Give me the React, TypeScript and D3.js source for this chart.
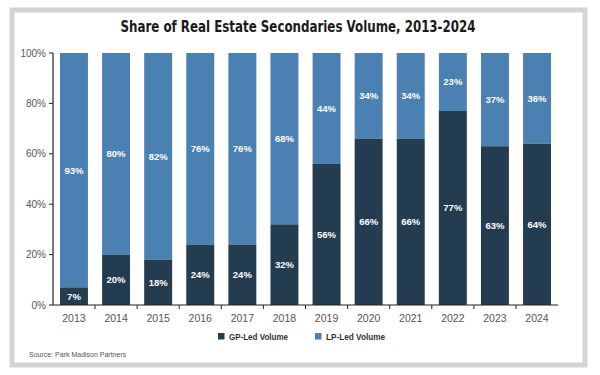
import React from "react";
import * as d3 from "d3";

const years = ["2013","2014","2015","2016","2017","2018","2019","2020","2021","2022","2023","2024"];
const gpLed = [7, 20, 18, 24, 24, 32, 56, 66, 66, 77, 63, 64];
const lpLed = [93, 80, 82, 76, 76, 68, 44, 34, 34, 23, 37, 36];
const yTicks = [0, 20, 40, 60, 80, 100];
const seriesNames = ["GP-Led Volume", "LP-Led Volume"];
const colors = ["#243c4f", "#4b80b2"];

export default function App() {
  const W = 600, H = 375;
  const left = 53, right = 558, top = 53, bottom = 305;
  const x = d3.scaleBand<string>().domain(years).range([left, right]).paddingInner(0.336).paddingOuter(0.166);
  const y = d3.scaleLinear().domain([0, 100]).range([bottom, top]);
  const step = x.step();
  const condensed = "'DejaVu Sans Condensed', 'Liberation Sans Narrow', Arial, sans-serif";
  const sans = "'Liberation Sans', Arial, sans-serif";
  return (
    <svg width={W} height={H} style={{ position: "absolute", left: 0, top: 0 }}>
      <rect x={0} y={0} width={W} height={H} fill="#fff" />
      <rect x={12} y={10} width={573} height={355} fill="#fff" stroke="#d4d4d4" strokeWidth={5} />
      <text x={298} y={32} textAnchor="middle" fontFamily={condensed} fontWeight="bold" fontSize={16} fill="#1a1a1a" textLength={355} lengthAdjust="spacingAndGlyphs">
        Share of Real Estate Secondaries Volume, 2013-2024
      </text>
      {years.map((yr, i) => {
        const bx = x(yr)!;
        const bw = x.bandwidth();
        const g = gpLed[i];
        const l = lpLed[i];
        return (
          <g key={yr}>
            <rect x={bx} y={y(g + l)} width={bw} height={y(g) - y(g + l)} fill={colors[1]} />
            <rect x={bx} y={y(g)} width={bw} height={y(0) - y(g)} fill={colors[0]} />
            <text x={bx + bw / 2} y={(y(0) + y(g)) / 2} dy="0.35em" textAnchor="middle" fontFamily={sans} fontWeight="bold" fontSize={9.5} fill="#fff">{g}%</text>
            <text x={bx + bw / 2} y={(y(g) + y(g + l)) / 2} dy="0.35em" textAnchor="middle" fontFamily={sans} fontWeight="bold" fontSize={9.5} fill="#fff">{l}%</text>
          </g>
        );
      })}
      <line x1={left} x2={left} y1={top} y2={bottom} stroke="#222" strokeWidth={1.2} />
      {yTicks.map(t => (
        <g key={t}>
          <line x1={left - 4} x2={left} y1={y(t)} y2={y(t)} stroke="#222" strokeWidth={1} />
          <text x={left - 7} y={y(t)} dy="0.35em" textAnchor="end" fontFamily={sans} fontSize={10} fill="#555">{t}%</text>
        </g>
      ))}
      <line x1={left} x2={right} y1={bottom} y2={bottom} stroke="#222" strokeWidth={1.2} />
      {years.slice(1).map(yr => (
        <line key={yr} x1={x(yr)! - (step - x.bandwidth()) / 2} x2={x(yr)! - (step - x.bandwidth()) / 2} y1={bottom} y2={bottom + 4} stroke="#222" strokeWidth={1} />
      ))}
      {years.map(yr => (
        <text key={yr} x={x(yr)! + x.bandwidth() / 2} y={318} dy="0.35em" textAnchor="middle" fontFamily={sans} fontSize={10.5} fill="#555">{yr}</text>
      ))}
      {seriesNames.map((n, i) => (
        <g key={n} transform={`translate(${218 + i * 97},333)`}>
          <rect x={0} y={0} width={6.5} height={6.5} fill={colors[i]} />
          <text x={11} y={3.3} dy="0.35em" fontFamily={sans} fontWeight="bold" fontSize={9.5} fill="#333" textLength={59} lengthAdjust="spacingAndGlyphs">{n}</text>
        </g>
      ))}
      <text x={29} y={355} dy="0.35em" fontFamily={sans} fontSize={7} fill="#555">Source: Park Madison Partners</text>
    </svg>
  );
}
